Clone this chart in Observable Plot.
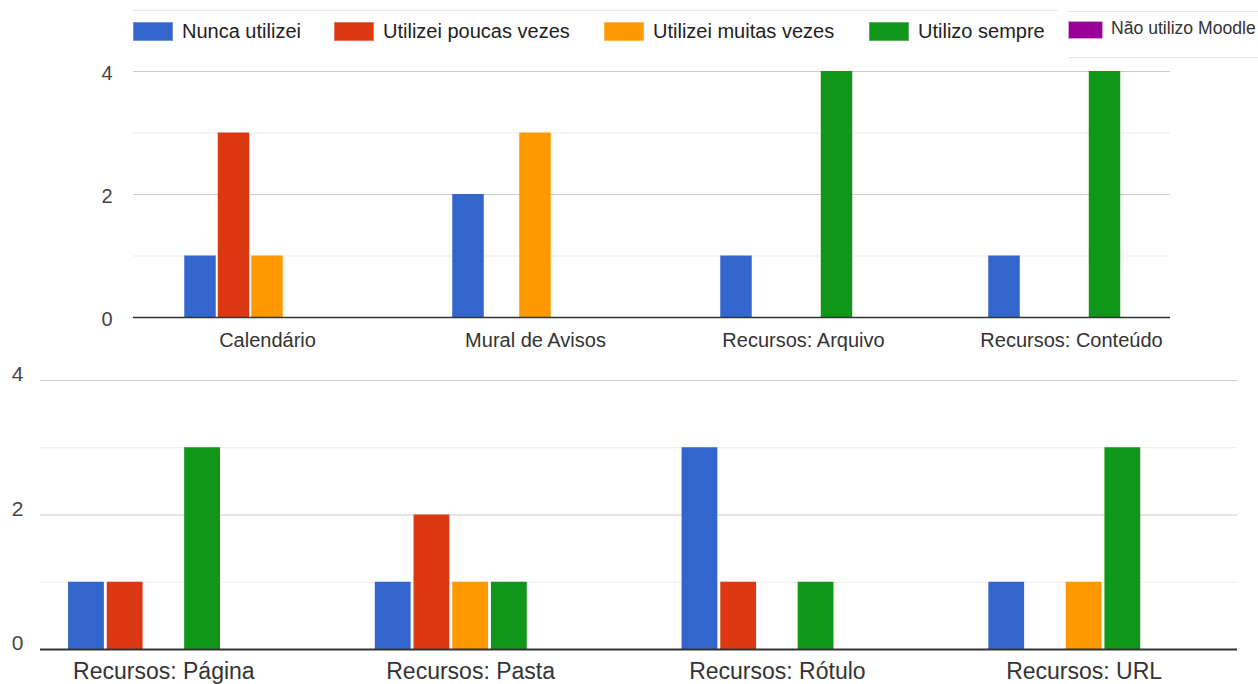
<!DOCTYPE html>
<html><head><meta charset="utf-8">
<script src="https://cdn.jsdelivr.net/npm/d3@7"></script>
<script src="https://cdn.jsdelivr.net/npm/@observablehq/plot@0.6"></script>
<style>
body{margin:0;background:#fff;font-family:Arial,"Liberation Sans",sans-serif;}
#root{position:relative;width:1258px;height:684px;overflow:hidden;background:#fff;}
.sw{position:absolute;box-sizing:border-box;}
.lt{position:absolute;white-space:nowrap;}
.clip{position:absolute;overflow:hidden;}
.line{position:absolute;height:1px;background:#e6e6e6;}
</style></head><body><div id="root"></div>
<script>
// ---- data ----
const series = ["Nunca utilizei", "Utilizei poucas vezes", "Utilizei muitas vezes", "Utilizo sempre", "Não utilizo Moodle"];
const colors = ["#3366cc", "#dc3912", "#ff9900", "#109618", "#990099"];
const topCategories = ["Calendário", "Mural de Avisos", "Recursos: Arquivo", "Recursos: Conteúdo"];
const bottomCategories = ["Recursos: Página", "Recursos: Pasta", "Recursos: Rótulo", "Recursos: URL"];
const categories = topCategories.concat(bottomCategories);
const nuncaUtilizei      = [1, 2, 1, 1, 1, 1, 3, 1];
const utilizeiPoucas     = [3, 0, 0, 0, 1, 2, 1, 0];
const utilizeiMuitas     = [1, 3, 0, 0, 0, 1, 0, 1];
const utilizoSempre      = [0, 0, 4, 4, 3, 1, 1, 3];
const naoUtilizoMoodle   = [0, 0, 0, 0, 0, 0, 0, 0];
const yTicks = [0, 2, 4];
const gridMajor = [2, 4];
const gridMinor = [1, 3];

const seriesValues = [nuncaUtilizei, utilizeiPoucas, utilizeiMuitas, utilizoSempre, naoUtilizoMoodle];
function rowsFor(cats) {
  const out = [];
  cats.forEach(c => {
    const i = categories.indexOf(c);
    series.forEach((s, j) => out.push({category: c, series: s, value: seriesValues[j][i]}));
  });
  return out;
}

const root = document.getElementById("root");
const FONT = "Arial, 'Liberation Sans', sans-serif";

// ---- legend ----
const line1 = document.createElement("div");
line1.className = "line"; Object.assign(line1.style, {left: "133px", top: "10px", width: "925px"});
root.appendChild(line1);
const legendLefts = [133, 334, 604, 869];
series.slice(0, 4).forEach((s, j) => {
  const sw = document.createElement("div");
  sw.className = "sw";
  Object.assign(sw.style, {left: legendLefts[j] + "px", top: "22px", width: "40px", height: "19px",
    background: colors[j], border: "1px solid rgba(255,255,255,0.3)"});
  root.appendChild(sw);
  const t = document.createElement("div");
  t.className = "lt"; t.textContent = s;
  Object.assign(t.style, {left: (legendLefts[j] + 49) + "px", top: "20px", fontSize: "20px", lineHeight: "23px", color: "#222"});
  root.appendChild(t);
});
// pasted "Não utilizo Moodle" legend box
const l2 = document.createElement("div"); l2.className = "line";
Object.assign(l2.style, {left: "1068px", top: "11px", width: "190px"}); root.appendChild(l2);
const l3 = document.createElement("div"); l3.className = "line";
Object.assign(l3.style, {left: "1068px", top: "57px", width: "190px"}); root.appendChild(l3);
const swp = document.createElement("div"); swp.className = "sw";
Object.assign(swp.style, {left: "1068px", top: "21px", width: "35px", height: "18px", background: colors[4], border: "1px solid #d7a0d7"});
root.appendChild(swp);
const tp = document.createElement("div"); tp.className = "lt"; tp.textContent = series[4];
Object.assign(tp.style, {left: "1111px", top: "18px", fontSize: "17.6px", lineHeight: "20px", color: "#333"});
root.appendChild(tp);

// ---- panels ----
function panel(o) {
  const rows = rowsFor(o.cats);
  const frameOpts = {
    width: o.gridRight, height: o.height,
    marginLeft: o.gridLeft, marginRight: 0, marginTop: o.mt, marginBottom: o.mb,
    y: {domain: [0, 4], axis: null},
    style: {background: "transparent", fontFamily: FONT, fontSize: o.fontY + "px", color: "#444"}
  };
  const back = Plot.plot({...frameOpts,
    marks: [
      Plot.ruleY(gridMinor, {stroke: "#ebebeb"}),
      Plot.ruleY(gridMajor, {stroke: "#cccccc"}),
      Plot.text(yTicks, {y: d => d, text: d => String(d), frameAnchor: "left", textAnchor: "end",
        dx: o.dxY, dy: o.dyY, fill: "#444"})
    ]
  });
  Object.assign(back.style, {position: "absolute", left: "0px", top: o.top + "px"});
  root.appendChild(back);

  const front = Plot.plot({
    width: o.bandRight, height: o.height,
    marginLeft: o.bandLeft, marginRight: 0, marginTop: o.mt, marginBottom: o.mb,
    facet: {data: rows, x: "category"},
    fx: {domain: o.cats, padding: 0, round: false, axis: "bottom", tickSize: 0, tickPadding: o.padX, label: null},
    x: {domain: series, paddingInner: o.pi, paddingOuter: o.po, round: false, axis: null},
    y: {domain: [0, 4], axis: null},
    color: {domain: series, range: colors},
    style: {background: "transparent", fontFamily: FONT, fontSize: o.fontX + "px", color: "#333"},
    marks: [
      Plot.barY(rows, {x: "series", y: "value", fill: "series", filter: d => d.value > 0})
    ]
  });
  const clip = document.createElement("div");
  clip.className = "clip";
  Object.assign(clip.style, {left: o.gridLeft + "px", top: o.top + "px", width: (o.gridRight - o.gridLeft) + "px", height: o.height + "px"});
  Object.assign(front.style, {position: "absolute", left: (-o.gridLeft) + "px", top: "0px", maxWidth: "none"});
  clip.appendChild(front);
  root.appendChild(clip);

  // baseline drawn above the bars
  const base = Plot.plot({...frameOpts,
    marks: [Plot.ruleY([0], {stroke: "#333333", strokeWidth: o.baseW})]
  });
  Object.assign(base.style, {position: "absolute", left: "0px", top: o.top + "px", pointerEvents: "none"});
  root.appendChild(base);
}

panel({cats: topCategories, top: 50, height: 310, mt: 21, mb: 43,
  gridLeft: 133, gridRight: 1170, bandLeft: 133, bandRight: 1205, pi: 0.06, po: 1.53,
  fontY: 20, fontX: 20, dxY: -21, dyY: 2, padX: 15, baseW: 1.6});
panel({cats: bottomCategories, top: 360, height: 324, mt: 20, mb: 35,
  gridLeft: 40, gridRight: 1237, bandLeft: 10, bandRight: 1237, pi: 0.075, po: 1.5,
  fontY: 21, fontX: 23, dxY: -17, dyY: -6, padX: 13, baseW: 2});
</script></body></html>
